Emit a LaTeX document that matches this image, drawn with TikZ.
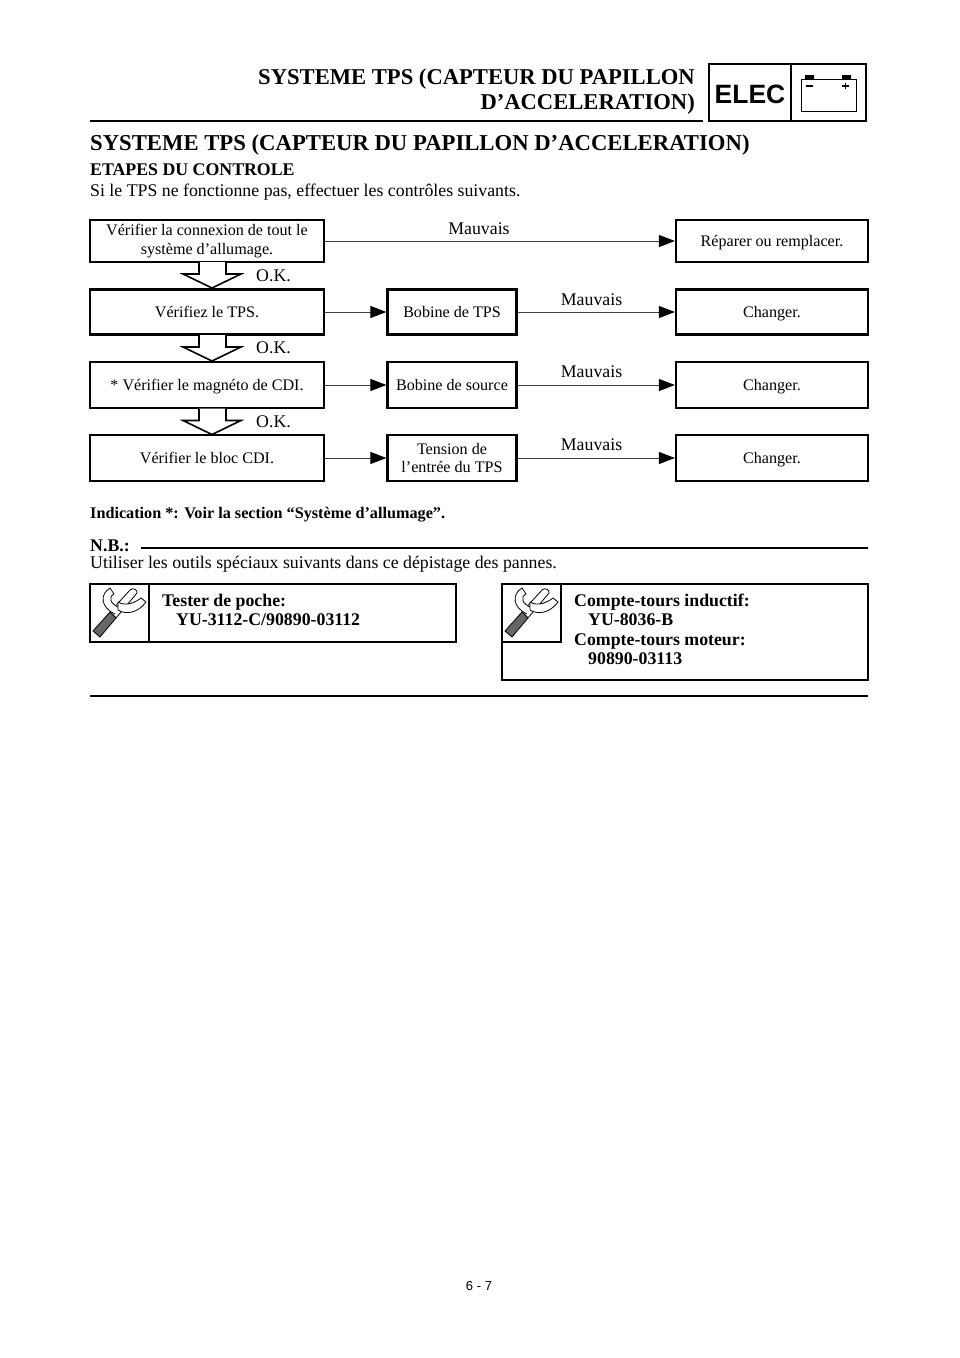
\documentclass[tikz,border=0pt]{standalone}
\usepackage{fontspec}
\setmainfont{Liberation Serif}
\setsansfont{Liberation Sans}
\usetikzlibrary{arrows.meta}
\newcommand{\FS}[1]{\fontsize{#1}{#1}\selectfont}
\newcommand{\OKarrow}[1]{%
  \draw[okarrow] (199,#1) -- +(0,12) -- +(-16,12) -- +(13,26) -- +(42,12) -- +(27,12) -- +(27,0);}
\newcommand{\Wrench}[2]{%
  \begin{scope}[shift={(#1,#2)}, line width=0.8pt, line join=round]
    \draw[fill=white] (20,28) -- (40,6) .. controls (43,3) and (48,6) .. (47,9) -- (26,34) -- cycle;
    \draw[fill=black!60, draw=black] (3,47) -- (10,53) -- (26,34) -- (20,28) -- cycle;
    \draw[fill=white] (25,30) .. controls (10,23) and (10,10) .. (20,4) -- (24,10) .. controls (18,13) and (20,20) .. (30,24);
    \draw[fill=white] (28,18) .. controls (36,23) and (46,18) .. (51,14) -- (56,18) .. controls (48,29) and (36,31) .. (28,26) -- cycle;
  \end{scope}}
\tikzset{
  box/.style={draw, line width=2.2pt, inner sep=0pt, align=center, font=\FS{16.1}},
  oneline/.style={box, text height=13pt, text depth=1.5pt},
  flow/.style={draw=black!75, line width=0.9pt, -{Stealth[length=16pt,width=12pt,inset=0pt,color=black]}},
  okarrow/.style={line width=1.6pt, line join=miter, fill=white},
  note/.style={inner sep=0pt, font=\FS{17.8}},
  rule/.style={line width=2pt}
}
\begin{document}
\begin{tikzpicture}[x=1pt, y=-1pt]
  \useasboundingbox[fill=white] (0,0) rectangle (960,1358);

  %% header
  \node[anchor=base east, inner sep=0pt, font=\FS{22.6}\bfseries] (titleA) at (695,84) {SYSTEME TPS (CAPTEUR DU PAPILLON};
  \node[anchor=base east, inner sep=0pt, font=\FS{22.6}\bfseries] (titleB) at (695,109) {D’ACCELERATION)};
  \draw[rule] (90,120.5) -- (703,120.5);
  \draw[line width=2pt] (709,64) rectangle (866,121);
  \draw[line width=2pt] (790.5,64) -- (790.5,121);
  \node[font=\FS{26.5}\sffamily\bfseries, inner sep=0pt] (elec) at (750,94) {ELEC};
  %% battery
  \draw[line width=0.9pt] (801,79) rectangle (856,111);
  \fill (805,75) rectangle (814,79) (842,75) rectangle (851,79);
  \draw[line width=1.1pt] (806,86) -- (813,86) (842,86) -- (849,86) (845.5,83) -- (845.5,89);

  \node[anchor=base west, inner sep=0pt, font=\FS{22.7}\bfseries] (head) at (90,150) {SYSTEME TPS (CAPTEUR DU PAPILLON D’ACCELERATION)};
  \node[anchor=base west, inner sep=0pt, font=\FS{17.8}\bfseries] (etapes) at (90,175) {ETAPES DU CONTROLE};
  \node[anchor=base west, note] (intro) at (90,196.5) {Si le TPS ne fonctionne pas, effectuer les contrôles suivants.};

  %% flow chart
  \node[box, minimum width=234pt, minimum height=42pt] (check) at (207,241) {Vérifier la connexion de tout le\\[3pt]système d’allumage.};
  \node[oneline, minimum width=192pt, minimum height=42pt] (repair) at (772,241) {Réparer ou remplacer.};
  \node[oneline, minimum width=234pt, minimum height=45pt] (tps) at (207,312) {Vérifiez le TPS.};
  \node[oneline, minimum width=129pt, minimum height=45pt] (coil) at (452,312) {Bobine de TPS};
  \node[oneline, minimum width=192pt, minimum height=45pt] (changeA) at (772,312) {Changer.};
  \node[oneline, minimum width=234pt, minimum height=46pt] (cdi) at (207,385) {* Vérifier le magnéto de CDI.};
  \node[oneline, minimum width=129pt, minimum height=46pt] (source) at (452,385) {Bobine de source};
  \node[oneline, minimum width=192pt, minimum height=46pt] (changeB) at (772,385) {Changer.};
  \node[oneline, minimum width=234pt, minimum height=46pt] (block) at (207,458) {Vérifier le bloc CDI.};
  \node[box, minimum width=129pt, minimum height=46pt] (volt) at (452,458) {Tension de\\[2pt]l’entrée du TPS};
  \node[oneline, minimum width=192pt, minimum height=46pt] (changeC) at (772,458) {Changer.};

  \draw[flow] (check) -- node[above=6pt, pos=0.44, inner sep=0pt, font=\FS{17.8}] (badA) {Mauvais} (repair);
  \draw[flow] (coil) -- node[above=6pt, pos=0.47, inner sep=0pt, font=\FS{17.8}] (badB) {Mauvais} (changeA);
  \draw[flow] (source) -- node[above=7pt, pos=0.47, inner sep=0pt, font=\FS{17.8}] (badC) {Mauvais} (changeB);
  \draw[flow] (volt) -- node[above=7pt, pos=0.47, inner sep=0pt, font=\FS{17.8}] (badD) {Mauvais} (changeC);
  \draw[flow] (tps) -- (coil);
  \draw[flow] (cdi) -- (source);
  \draw[flow] (block) -- (volt);

  \OKarrow{262}
  \OKarrow{335}
  \OKarrow{408.5}
  \node[note, anchor=base west] (okA) at (256,281) {O.K.};
  \node[note, anchor=base west] (okB) at (256,353) {O.K.};
  \node[note, anchor=base west] (okC) at (256,427) {O.K.};

  \node[anchor=base west, inner sep=0pt, font=\FS{16.2}\bfseries] (indic) at (90,518) {Indication *: Voir la section “Système d’allumage”.};

  %% note block
  \node[anchor=base west, inner sep=0pt, font=\FS{17.8}\bfseries] (nb) at (90,551) {N.B.:};
  \draw[rule] (141,548) -- (868,548);
  \node[anchor=base west, note] (usage) at (90,568) {Utiliser les outils spéciaux suivants dans ce dépistage des pannes.};

  \draw[line width=2pt] (90,584) rectangle (456,642);
  \draw[line width=2pt] (148.5,584) -- (148.5,642);
  \Wrench{90}{584}
  \node[anchor=base west, inner sep=0pt, font=\FS{17.8}\bfseries] (toolA) at (162,606) {Tester de poche:};
  \node[anchor=base west, inner sep=0pt, font=\FS{17.8}\bfseries] (toolB) at (176,625) {YU-3112-C/90890-03112};

  \draw[line width=2pt] (502,584) rectangle (868,680);
  \draw[line width=2pt] (502,642) -- (560.5,642) -- (560.5,584);
  \Wrench{502}{584}
  \node[anchor=base west, inner sep=0pt, font=\FS{17.8}\bfseries] (meterA) at (574,606) {Compte-tours inductif:};
  \node[anchor=base west, inner sep=0pt, font=\FS{17.8}\bfseries] (meterB) at (588,625) {YU-8036-B};
  \node[anchor=base west, inner sep=0pt, font=\FS{17.8}\bfseries] (meterC) at (574,645) {Compte-tours moteur:};
  \node[anchor=base west, inner sep=0pt, font=\FS{17.8}\bfseries] (meterD) at (588,664) {90890-03113};

  \draw[rule] (90,696) -- (868,696);

  \node[inner sep=0pt, font=\FS{13}\sffamily] (page) at (479,1286) {6 - 7};
\end{tikzpicture}
\end{document}
